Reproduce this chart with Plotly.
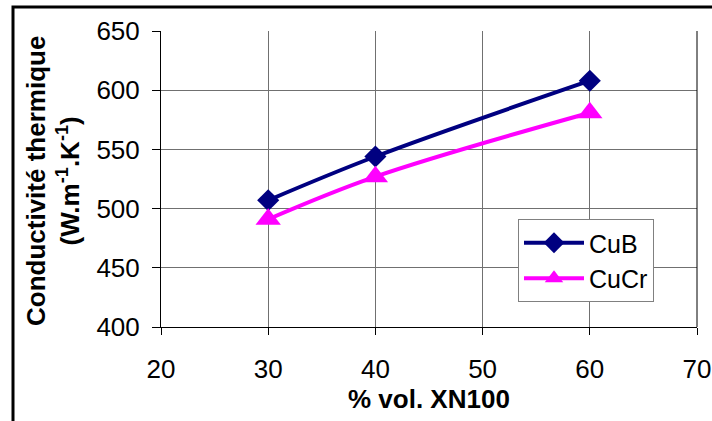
import plotly.graph_objects as go

x_vals = [30, 40, 60]
cub = [507, 544, 608]
cucr = [491, 527, 581]
x_ticks = [20, 30, 40, 50, 60, 70]
y_ticks = [400, 450, 500, 550, 600, 650]

L, R, T, B = 161, 697, 31, 327
W, H = 712, 421
pw, ph = R - L, B - T

fig = go.Figure()
fig.add_trace(go.Scatter(x=x_vals, y=cub, name="CuB", mode="lines+markers",
                         line=dict(color="#000080", width=4, shape="spline"),
                         marker=dict(symbol="diamond", size=17, color="#000080")))
fig.add_trace(go.Scatter(x=x_vals, y=cucr, name="CuCr", mode="lines+markers",
                         line=dict(color="#FF00FF", width=4, shape="spline"),
                         marker=dict(symbol="triangle-up", size=22, color="#FF00FF")))

font = "Liberation Sans, Arial, sans-serif"
fig.update_layout(
    width=W, height=H,
    margin=dict(l=L, r=W - R, t=T, b=H - B, autoexpand=False),
    paper_bgcolor="white", plot_bgcolor="white",
    font=dict(family=font, color="black", size=26),
    showlegend=True,
    legend=dict(x=(518 - L) / pw, y=(B - 219) / ph, xanchor="left", yanchor="top",
                bgcolor="white", bordercolor="#808080", borderwidth=1,
                font=dict(size=25), tracegroupgap=0, itemwidth=60),
    xaxis=dict(range=[20, 70], tickvals=x_ticks, showgrid=True, gridcolor="#707070", gridwidth=1,
               showline=True, linecolor="black", linewidth=1, mirror=False,
               ticks="outside", ticklen=7, tickcolor="black", zeroline=False,
               ticklabelstandoff=12, tickfont=dict(size=26)),
    yaxis=dict(range=[400, 650], tickvals=y_ticks, showgrid=True, gridcolor="#707070", gridwidth=1,
               showline=True, linecolor="black", linewidth=1,
               ticks="outside", ticklen=8, tickcolor="black", zeroline=False,
               ticklabelstandoff=7, tickfont=dict(size=26)),
    annotations=[
        dict(text="<b>% vol. XN100</b>", xref="paper", yref="paper",
             x=0.5, y=(B - 399) / ph, xanchor="center", yanchor="middle",
             showarrow=False, font=dict(size=26)),
        dict(text="<b>Conductivité thermique<br>(W.m<sup>-1</sup>.K<sup>-1</sup>)</b>",
             xref="paper", yref="paper", x=(53 - L) / pw, y=(B - 181) / ph,
             xanchor="center", yanchor="middle", textangle=-90,
             showarrow=False, font=dict(size=26)),
    ],
    shapes=[
        dict(type="rect", xref="paper", yref="paper",
             x0=(13 - L) / pw, x1=(W + 20 - L) / pw,
             y0=(B - (H + 20)) / ph, y1=(B - 7) / ph,
             line=dict(color="black", width=3), fillcolor="rgba(0,0,0,0)", layer="above"),
        dict(type="line", xref="paper", yref="paper", x0=1, x1=1, y0=0, y1=1,
             line=dict(color="black", width=1)),
    ],
)
fig.write_html("out.html", config={"displayModeBar": False},
               post_script="document.body.style.margin='0';document.body.style.overflow='hidden';")
